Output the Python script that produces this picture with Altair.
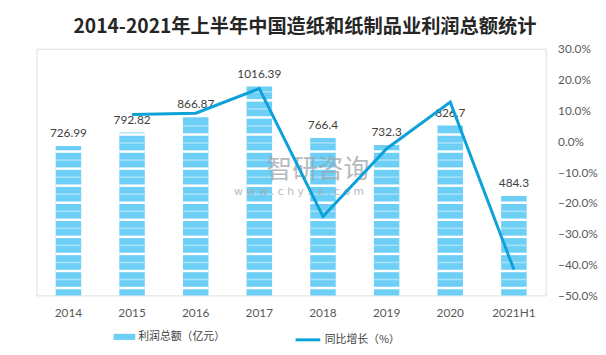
import altair as alt
import pandas as pd
import numpy as np

years = ["2014", "2015", "2016", "2017", "2018", "2019", "2020", "2021H1"]
profit = [726.99, 792.82, 866.87, 1016.39, 766.4, 732.3, 826.7, 484.3]
profit_labels = ["726.99", "792.82", "866.87", "1016.39", "766.4", "732.3", "826.7", "484.3"]
growth_pct = [None, 8.7, 9.1, 17.1, -24.4, -2.4, 12.7, -41.6]
left_ticks = [0, 200, 400, 600, 800, 1000, 1200]
right_ticks = [-0.5, -0.4, -0.3, -0.2, -0.1, 0.0, 0.1, 0.2, 0.3]

BAR_NAME = "利润总额（亿元）"
LINE_NAME = "同比增长（%）"

df = pd.DataFrame({"year": years, "profit": profit, "label": profit_labels,
                   "series": BAR_NAME})
line_df = pd.DataFrame({"year": years[1:],
                        "growth": [g / 100 for g in growth_pct[1:]],
                        "series": LINE_NAME})

# decorative stripes inside each bar (derived from the bar values)
white_rows, light_rows = [], []
for y, v in zip(years, profit):
    for s in np.arange(36, v - 6, 83):
        white_rows.append({"year": y, "s": s})
    for s in np.arange(77.5, v - 4, 83):
        light_rows.append({"year": y, "s": s})
white_df = pd.DataFrame(white_rows)
light_df = pd.DataFrame(light_rows)

xenc = alt.X("year:N", sort=years, title=None,
             scale=alt.Scale(paddingInner=0.6),
             axis=alt.Axis(labelAngle=0, ticks=False, domain=False,
                           labelPadding=12, labelFontSize=12,
                           labelColor="#595959", labelFont="Lato"))
yscale = alt.Scale(domain=[0, 1200], nice=False)

bars = alt.Chart(df).mark_bar().encode(
    x=xenc,
    y=alt.Y("profit:Q", scale=yscale, title=None,
            axis=alt.Axis(values=left_ticks, domain=False, ticks=False,
                          labelPadding=10, gridColor="#d9d9d9",
                          labelFontSize=12, labelColor="#595959",
                          labelFont="Lato")),
    fill=alt.Fill("series:N", scale=alt.Scale(domain=[BAR_NAME], range=["#6dcff6"]),
                  legend=alt.Legend(title=None, orient="none", legendX=78, legendY=281,
                                    symbolType="M-1,-0.28L1,-0.28L1,0.28L-1,0.28Z",
                                    symbolSize=484, symbolStrokeWidth=0,
                                    labelFont="Noto Sans CJK SC", labelFontSize=11,
                                    labelColor="#404040", labelOffset=3, padding=0)),
)

white = alt.Chart(white_df).mark_tick(color="white", size=26, thickness=2.5, opacity=1).encode(
    x=alt.X("year:N", sort=years),
    y=alt.Y("s:Q", scale=yscale, axis=None),
)
light = alt.Chart(light_df).mark_tick(color="#a9e2f9", size=26, thickness=1.5, opacity=1).encode(
    x=alt.X("year:N", sort=years),
    y=alt.Y("s:Q", scale=yscale, axis=None),
)

labels = alt.Chart(df).mark_text(dy=-13, fontSize=12, color="#404040",
                                 font="Lato").encode(
    x=alt.X("year:N", sort=years),
    y=alt.Y("profit:Q", scale=yscale, axis=None),
    text="label:N",
)

wm1 = alt.Chart(pd.DataFrame({"t": ["智研咨询"]})).mark_text(
    font="Noto Sans CJK SC", fontSize=26, color="#9ea3aa", opacity=0.75).encode(
    text="t:N", x=alt.value(285), y=alt.value(123))
wm2 = alt.Chart(pd.DataFrame({"t": ["w w w . c h y x x . c o m"]})).mark_text(
    font="DejaVu Sans", fontSize=11, color="#9ea3aa", opacity=0.75).encode(
    text="t:N", x=alt.value(266), y=alt.value(145))

left = alt.layer(bars, white, light, labels, wm1, wm2)

line = alt.Chart(line_df).mark_line(strokeWidth=3).encode(
    x=alt.X("year:N", sort=years),
    y=alt.Y("growth:Q", scale=alt.Scale(domain=[-0.5, 0.3], nice=False), title=None,
            axis=alt.Axis(orient="right", values=right_ticks, format=".1%",
                          domain=False, ticks=False, grid=False, labelPadding=12,
                          labelFontSize=12, labelColor="#595959", labelFont="Lato")),
    stroke=alt.Stroke("series:N", scale=alt.Scale(domain=[LINE_NAME], range=["#0da1d9"]),
                      legend=alt.Legend(title=None, orient="none", legendX=261, legendY=281,
                                        symbolType="stroke", symbolSize=625,
                                        symbolStrokeWidth=3,
                                        labelFont="Noto Sans CJK SC", labelFontSize=11,
                                        labelColor="#404040", labelOffset=3, padding=0)),
)

chart = alt.layer(left, line).resolve_scale(y="independent").properties(
    width=516, height=250,
    autosize=alt.AutoSizeParams(type="none"),
    padding={"left": 29, "top": 39, "right": 53, "bottom": 56},
    title=alt.Title("2014-2021年上半年中国造纸和纸制品业利润总额统计",
                    font="Noto Sans CJK SC", fontSize=19.5, fontWeight="bold",
                    color="#262626", anchor="middle", offset=6, dx=14),
).configure_view(stroke=None).configure(background="white")

chart.save("out.html", embed_options={"renderer": "svg", "actions": False})
